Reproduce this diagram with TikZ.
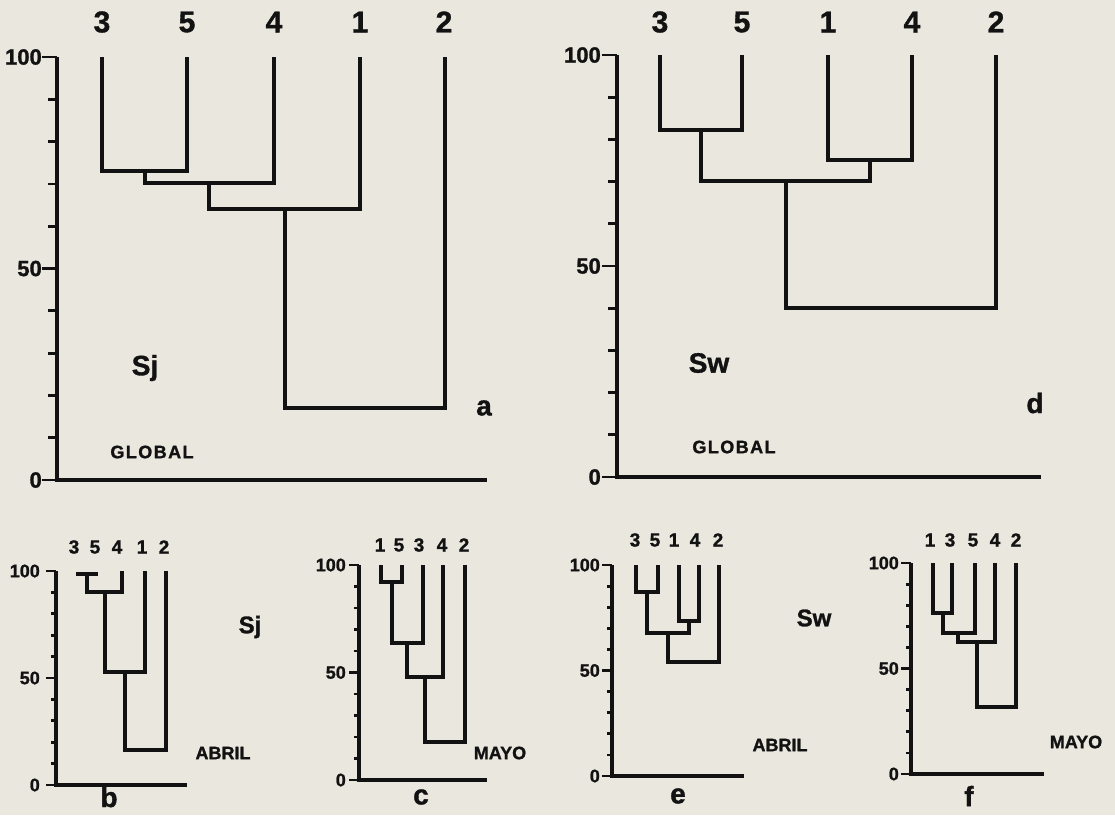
\documentclass[tikz,border=0pt]{standalone}
\usepackage{fontspec}
\setmainfont{Liberation Sans}
\definecolor{paper}{RGB}{233,231,222}
\definecolor{ink}{RGB}{18,18,18}
\newcommand{\heavy}{\bfseries\addfontfeature{FakeBold=1.2}}
\tikzset{
  dl/.style={line width=4pt, draw=ink},
  ax/.style={line width=3.8pt, draw=ink},
  tk/.style={line width=2.8pt, draw=ink},
  lbig/.style={font=\heavy\fontsize{30}{30}\selectfont, inner sep=0pt, text=ink},
  ticbig/.style={font=\heavy\fontsize{22}{22}\selectfont, inner sep=0pt, text=ink},
  lsmall/.style={font=\heavy\fontsize{19}{19}\selectfont, inner sep=0pt, text=ink},
  ticsmall/.style={font=\heavy\fontsize{18}{18}\selectfont, inner sep=0pt, text=ink},
  sbig/.style={font=\heavy\fontsize{28}{28}\selectfont, inner sep=0pt, text=ink},
  ssmall/.style={font=\heavy\fontsize{24}{24}\selectfont, inner sep=0pt, text=ink},
  panel/.style={font=\heavy\fontsize{28}{28}\selectfont, inner sep=0pt, text=ink},
  month/.style={font=\heavy\fontsize{18}{18}\selectfont, inner sep=0pt, text=ink},
  glob/.style={font=\heavy\fontsize{18}{18}\selectfont\addfontfeature{LetterSpace=8}, inner sep=0pt, text=ink}
}
% #1 name, #2 x, #3 y100, #4 y0, #5 xend, #6 minor, #7 major, #8 label gap, #9 label style
\newcommand{\mkaxis}[9]{%
  \coordinate (#1top) at (#2,#3);
  \coordinate (#1org) at (#2,#4);
  \coordinate (#1end) at (#5,#4);
  \draw[ax] (#1top) -- (#1org) -- (#1end);
  \foreach \i in {1,2,3,4,6,7,8,9}{\draw[tk] (#2,{#3+(#4-#3)*\i/10}) -- ++(-#6,0);}
  \foreach \f in {0,0.5,1}{\draw[tk] (#2,{#3+(#4-#3)*\f}) -- ++(-#7,0);}
  \node[#9,anchor=east] (#1l100) at ({#2-#8},#3) {100};
  \node[#9,anchor=east] (#1l50) at ({#2-#8},{(#3+#4)/2}) {50};
  \node[#9,anchor=east] (#1l0) at ({#2-#8},#4) {0};
}
\begin{document}
\begin{tikzpicture}[x=1pt,y=-1pt]
\fill[paper] (0,0) rectangle (1115,815);
\useasboundingbox (0,0) rectangle (1115,815);

% ---------------- panel a ----------------
\mkaxis{A}{57}{57}{480}{487}{9}{15}{15}{ticbig}
\coordinate (a3) at (102,57); \coordinate (a5) at (187,57);
\coordinate (a4) at (274,57); \coordinate (a1) at (360,57);
\coordinate (a2) at (445,57);
\coordinate (am1) at (144.5,171); \coordinate (am2) at (209,183);
\coordinate (am3) at (285,209); \coordinate (am4) at (365,408);
\draw[dl] (a3) |- (am1) -| (a5);
\draw[dl] (am1) |- (am2) -| (a4);
\draw[dl] (am2) |- (am3) -| (a1);
\draw[dl] (am3) |- (am4) -| (a2);
\node[lbig] (la3) at (102,22) {3};
\node[lbig] (la5) at (187,22) {5};
\node[lbig] (la4) at (274,22) {4};
\node[lbig] (la1) at (360,22) {1};
\node[lbig] (la2) at (444,22) {2};
\node[sbig] (asj) at (145,368) {Sj};
\node[panel] (alab) at (484,408) {a};
\node[glob] (aglob) at (152,452) {GLOBAL};

% ---------------- panel d ----------------
\mkaxis{D}{617}{55}{477}{1041}{9}{15}{16}{ticbig}
\coordinate (d3) at (660,55); \coordinate (d5) at (742,55);
\coordinate (d1) at (828,55); \coordinate (d4) at (912,55);
\coordinate (d2) at (996,55);
\coordinate (dm1) at (701,130); \coordinate (dm2) at (870,160);
\coordinate (dm3) at (786,181); \coordinate (dm4) at (891,308);
\draw[dl] (d3) |- (dm1) -| (d5);
\draw[dl] (d1) |- (dm2) -| (d4);
\draw[dl] (dm1) |- (dm3) -| (dm2);
\draw[dl] (dm3) |- (dm4) -| (d2);
\node[lbig] (ld3) at (660,22) {3};
\node[lbig] (ld5) at (742,22) {5};
\node[lbig] (ld1) at (828,22) {1};
\node[lbig] (ld4) at (912,22) {4};
\node[lbig] (ld2) at (996,22) {2};
\node[sbig] (dsw) at (709,363) {Sw};
\node[panel] (dlab) at (1035,403) {d};
\node[glob] (dglob) at (734,447) {GLOBAL};

% ---------------- panel b ----------------
\mkaxis{B}{56}{571}{785}{187}{5}{10}{16}{ticsmall}
\coordinate (b3) at (78,572); \coordinate (b5) at (96,572);
\coordinate (b4) at (122,571); \coordinate (b1) at (145,571);
\coordinate (b2) at (166,571);
\coordinate (bm1) at (87,574); \coordinate (bm2) at (105,592);
\coordinate (bm3) at (125,672); \coordinate (bm4) at (145,750);
\draw[dl] (b3) |- (bm1) -| (b5);
\draw[dl] (bm1) |- (bm2) -| (b4);
\draw[dl] (bm2) |- (bm3) -| (b1);
\draw[dl] (bm3) |- (bm4) -| (b2);
\node[lsmall] (lb3) at (74,547) {3};
\node[lsmall] (lb5) at (95,547) {5};
\node[lsmall] (lb4) at (117,547) {4};
\node[lsmall] (lb1) at (142,547) {1};
\node[lsmall] (lb2) at (164,547) {2};
\node[ssmall] (bsj) at (250,627) {Sj};
\node[month] (bmon) at (223,753) {ABRIL};
\node[panel] (blab) at (109,797) {b};

% ---------------- panel c ----------------
\mkaxis{C}{359}{565}{780}{487}{5}{10}{13}{ticsmall}
\coordinate (c1) at (381,565); \coordinate (c5) at (402,565);
\coordinate (c3) at (423,565); \coordinate (c4) at (443,565);
\coordinate (c2) at (465,565);
\coordinate (cm1) at (391.5,582); \coordinate (cm2) at (407,643);
\coordinate (cm3) at (425,677); \coordinate (cm4) at (445,742);
\draw[dl] (c1) |- (cm1) -| (c5);
\draw[dl] (cm1) |- (cm2) -| (c3);
\draw[dl] (cm2) |- (cm3) -| (c4);
\draw[dl] (cm3) |- (cm4) -| (c2);
\node[lsmall] (lc1) at (380,545) {1};
\node[lsmall] (lc5) at (399,545) {5};
\node[lsmall] (lc3) at (419,545) {3};
\node[lsmall] (lc4) at (442,545) {4};
\node[lsmall] (lc2) at (464,545) {2};
\node[month] (cmon) at (500,753) {MAYO};
\node[panel] (clab) at (421,797) {c};

% ---------------- panel e ----------------
\mkaxis{E}{612}{565}{776}{744}{5}{10}{12}{ticsmall}
\coordinate (e3) at (636,565); \coordinate (e5) at (658,565);
\coordinate (e1) at (679,565); \coordinate (e4) at (699,565);
\coordinate (e2) at (719,565);
\coordinate (em1) at (647,592); \coordinate (em2) at (689,621);
\coordinate (em3) at (668,633); \coordinate (em4) at (694,662);
\draw[dl] (e3) |- (em1) -| (e5);
\draw[dl] (e1) |- (em2) -| (e4);
\draw[dl] (em1) |- (em3) -| (em2);
\draw[dl] (em3) |- (em4) -| (e2);
\node[lsmall] (le3) at (635,540) {3};
\node[lsmall] (le5) at (655,540) {5};
\node[lsmall] (le1) at (674,540) {1};
\node[lsmall] (le4) at (695,540) {4};
\node[lsmall] (le2) at (718,540) {2};
\node[ssmall] (esw) at (814,618) {Sw};
\node[month] (emon) at (780,745) {ABRIL};
\node[panel] (elab) at (678,796) {e};

% ---------------- panel f ----------------
\mkaxis{F}{911}{563}{774}{1044}{5}{10}{12}{ticsmall}
\coordinate (f1) at (933,563); \coordinate (f3) at (952,563);
\coordinate (f5) at (975,563); \coordinate (f4) at (995,563);
\coordinate (f2) at (1016,563);
\coordinate (fm1) at (942.5,613); \coordinate (fm2) at (958,633);
\coordinate (fm3) at (977,642); \coordinate (fm4) at (996,707);
\draw[dl] (f1) |- (fm1) -| (f3);
\draw[dl] (fm1) |- (fm2) -| (f5);
\draw[dl] (fm2) |- (fm3) -| (f4);
\draw[dl] (fm3) |- (fm4) -| (f2);
\node[lsmall] (lf1) at (930,540) {1};
\node[lsmall] (lf3) at (950,540) {3};
\node[lsmall] (lf5) at (973,540) {5};
\node[lsmall] (lf4) at (995,540) {4};
\node[lsmall] (lf2) at (1016,540) {2};
\node[month] (fmon) at (1076,742) {MAYO};
\node[panel] (flab) at (969,796) {f};
\end{tikzpicture}
\end{document}
